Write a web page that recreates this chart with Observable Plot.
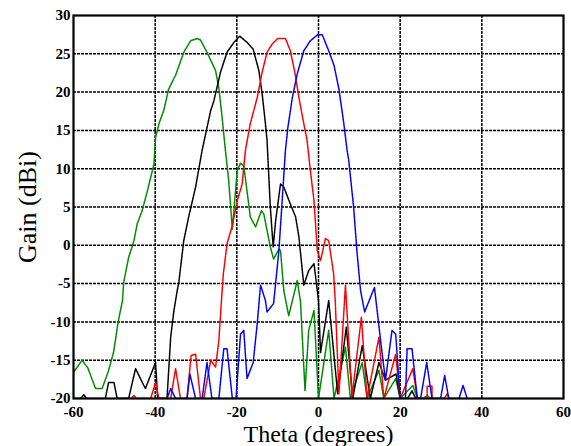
<!DOCTYPE html>
<html>
<head>
<meta charset="utf-8">
<script src="https://cdn.jsdelivr.net/npm/d3@7"></script>
<script src="https://cdn.jsdelivr.net/npm/@observablehq/plot@0.6"></script>
<style>
  html, body { margin: 0; padding: 0; background: #fff; }
  #chart { width: 571px; height: 446px; }
</style>
</head>
<body>
<div id="chart"></div>
<script>
const xTicks = [-60, -40, -20, 0, 20, 40, 60];
const yTicks = [-20, -15, -10, -5, 0, 5, 10, 15, 20, 25, 30];

const greenTheta = [-60,-57.9,-56.5,-54.6,-53,-51.5,-50.2,-49,-48,-47.7,-46.5,-45.2,-44.4,-43.2,-42,-40.3,-39.9,-39,-37.9,-36.7,-35,-33,-31.3,-29.7,-28.9,-27.3,-25.2,-24.4,-23.6,-22.8,-22,-21.1,-19.9,-19.1,-18.3,-16.7,-15.4,-14,-13.4,-11.8,-11,-9.7,-9.3,-8.5,-7.3,-5.2,-4.4,-3.3,-2.4,-1.1,0,2.5,3.8,6.6,7.8,10.7,11.9,14.8,16,18.9,20,23.1,24.2,25.7,26.6,27.5];
const greenGain  = [-16.6,-15,-16,-18.7,-18.7,-16.5,-14,-9.8,-7.2,-4.8,-1.6,0.6,2.8,4.5,6.9,10.6,14.1,16,17.6,20.4,22.2,25.2,26.7,27.0,26.8,25.2,22.8,20.5,16.7,12.4,8.5,2.1,9.8,10.7,10.4,3.7,2.4,4.5,4.1,-0.2,-1.8,-0.5,-0.7,-5.9,-9.2,-4.6,-7.4,-19,-11.1,-8.5,-20,-11.1,-20,-13.3,-20,-15.3,-20,-16.3,-20,-17.4,-20,-18.3,-20,-20,-19.6,-20];

const blackTheta = [-60,-58.2,-57.5,-56.8,-52.2,-51.4,-50.1,-49.3,-46.5,-44.8,-42.4,-39.9,-39.4,-37.1,-36.2,-35.4,-34.6,-34.2,-33,-31.8,-30.1,-28.5,-26.4,-25.6,-24,-22.4,-20.7,-19.3,-17.5,-16,-14.6,-13.8,-13,-12.6,-11.8,-11.1,-10.5,-9.3,-8.5,-6.9,-5.6,-4.8,-3.6,-2.4,-1.1,0,0.5,2.5,4.7,6.8,8.4,10.7,12.7,14.8,16.4,19,20,21.8,22.9,23.8];
const blackGain  = [-20,-20,-19.5,-20,-20,-17.9,-17.9,-20,-20,-16.1,-18.7,-15.3,-20,-20,-12,-8.5,-5.9,-4.8,0.6,3.7,7.6,12.4,17.6,18.9,22.6,25.2,26.5,27.3,26.5,25.6,22.8,19.8,15.9,13.7,5,-0.2,3.2,8,7.6,5.4,3.7,1.1,-5.2,-3.3,-2.4,-7.2,-14,-7.2,-19.4,-10.7,-20,-13.1,-20,-15.3,-17.6,-16.8,-20,-20,-19,-20];

const redTheta = [-48,-45.8,-45.2,-44.6,-41.1,-39.9,-39.1,-36.2,-35,-33.8,-32.2,-31.2,-30.1,-28.9,-28.1,-26.4,-25.2,-24.4,-23.6,-23.3,-22.4,-21.1,-19.9,-18.7,-17.9,-16.7,-15,-13.8,-12.6,-11.3,-10,-8.1,-6.9,-5.8,-4.8,-3.6,-2.8,-2,-1.1,-0.3,0.5,1.7,2.5,3.7,4.1,5,6.6,8.2,10.5,11.9,14.8,16,18.9,20,23.1,24.2,26.6,26.6,27.8,27.8,30.8,31.5,32];
const redGain  = [-20,-20,-19.6,-20,-20,-17.9,-20,-20,-16.1,-20,-20,-14.4,-14.2,-20,-20,-15,-15.9,-12.4,-5.9,-3.7,0.2,2.6,5.8,8,12.4,15.9,19.3,22.6,25.2,26.3,27,27,25.4,22.6,19.3,15.9,13.7,9.8,5.8,-0.7,-2,0.9,0.6,-3.7,-7.2,-19.4,-5.2,-19.8,-9.4,-20,-12,-20,-14.2,-20,-16.1,-20,-20,-18.4,-18.4,-20,-20,-19.4,-20];

const blueTheta = [-37.1,-36.2,-35,-32.2,-31.5,-30.1,-28.5,-27.3,-26.1,-24.4,-23.2,-22.4,-21.1,-20.2,-19.1,-18.3,-17.5,-16,-15,-14.2,-13,-12.6,-11,-9.7,-8.9,-8.1,-7.5,-6.4,-5.2,-3.6,-2,-0.2,0.9,2.5,3.8,5,6.2,7,7.4,8.6,9.4,10.3,11.3,13.7,15.6,16.4,18,18.9,20,21.3,21.7,22.9,24.2,25,26.5,27.8,29.9,30.9,31.9,34.4,35.4,36.4];
const blueGain  = [-20,-18.7,-20,-20,-16.8,-20,-20,-15.3,-20,-20,-13.5,-13.5,-20,-20,-11.6,-11.1,-17.4,-15.3,-10.2,-5.2,-7.2,-8.7,-7.6,-0.7,5.8,12.4,15.4,19.3,22.4,25.4,26.7,27.5,27.5,25.4,23.5,20.4,15.9,12.4,11.1,5,-0.7,-5.9,-8.7,-5.5,-14.2,-17.6,-11.1,-11.6,-20,-20,-13.5,-13.5,-20,-20,-15.3,-20,-20,-17,-20,-20,-18.3,-20];

function rows(theta, gain) {
  return theta.map((t, i) => ({theta: t, gain: gain[i]}));
}
const curveStyle = {x: "theta", y: "gain", strokeWidth: 1.5, strokeDasharray: "2.5,0.8", curve: "linear"};

const chart = Plot.plot({
  width: 571,
  height: 446,
  marginLeft: 73,
  marginRight: 8,
  marginTop: 15,
  marginBottom: 48,
  style: {fontFamily: "'Liberation Serif', 'Times New Roman', serif", background: "#fff", color: "#000"},
  x: {domain: [-60, 60]},
  y: {domain: [-20, 30]},
  marks: [
    Plot.gridX(xTicks.slice(1, -1), {stroke: "#000", strokeOpacity: 1, strokeWidth: 1.5, strokeDasharray: "3,1"}),
    Plot.gridY(yTicks.slice(1, -1), {stroke: "#000", strokeOpacity: 1, strokeWidth: 1.5, strokeDasharray: "3,1"}),
    Plot.line(rows(greenTheta, greenGain), {...curveStyle, stroke: "#008a00", clip: true}),
    Plot.line(rows(blackTheta, blackGain), {...curveStyle, stroke: "#000000", clip: true}),
    Plot.line(rows(redTheta, redGain), {...curveStyle, stroke: "#ff0000", clip: true}),
    Plot.line(rows(blueTheta, blueGain), {...curveStyle, stroke: "#0000ff", clip: true}),
    Plot.frame({stroke: "#000", strokeWidth: 2.2}),
    Plot.axisX({ticks: xTicks, tickSize: 0, tickPadding: 8, fontSize: 15, fontWeight: "bold", tickFormat: d => String(d), label: null}),
    Plot.axisY({ticks: yTicks, tickSize: 0, tickPadding: 3, fontSize: 15, fontWeight: "bold", tickFormat: d => String(d), label: null}),
    Plot.text(["Theta (degrees)"], {frameAnchor: "bottom", dy: 36, textAnchor: "middle", lineAnchor: "middle", fontSize: 24, fill: "#000"}),
    Plot.text(["Gain (dBi)"], {frameAnchor: "left", dx: -46, textAnchor: "middle", lineAnchor: "middle", rotate: -90, fontSize: 26, fill: "#000"})
  ]
});
document.getElementById("chart").appendChild(chart);
</script>
</body>
</html>
